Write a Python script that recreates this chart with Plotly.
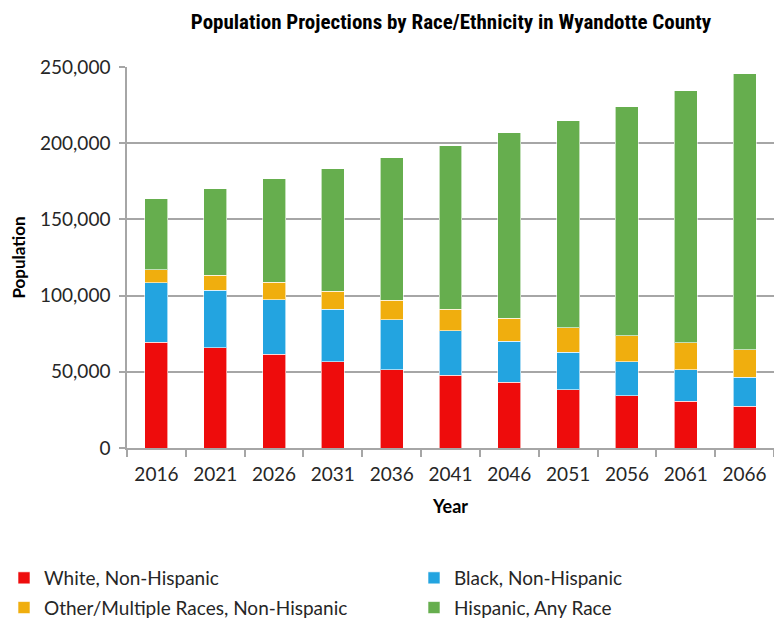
import plotly.graph_objects as go

years = ["2016", "2021", "2026", "2031", "2036", "2041", "2046", "2051", "2056", "2061", "2066"]
white = [69400, 65700, 61500, 56700, 51500, 47600, 43000, 38200, 34200, 30700, 27400]
black = [39000, 37800, 35900, 34200, 32800, 29500, 26900, 24600, 22500, 20600, 18900]
other = [8700, 9900, 11200, 11800, 12500, 13800, 15100, 16100, 17100, 17900, 18300]
hispanic = [46400, 56800, 68200, 80700, 93800, 107500, 122000, 135900, 150200, 165100, 180900]

series = [
    ("White, Non-Hispanic", white, "#EE0C0C", "legend"),
    ("Black, Non-Hispanic", black, "#23A4E0", "legend2"),
    ("Other/Multiple Races, Non-Hispanic", other, "#F0AE0E", "legend"),
    ("Hispanic, Any Race", hispanic, "#66AE4E", "legend2"),
]

font_main = "Lato, 'Open Sans', 'DejaVu Sans', sans-serif"
font_title = "'Liberation Sans Narrow', 'Roboto Condensed', 'Liberation Sans', sans-serif"
txt_col = "#262626"

# plot area geometry (pixels)
L, R, T, B = 127, 0, 67, 171
PW, PH = 774 - L - R, 619 - T - B

fig = go.Figure()
for name, vals, col, leg in series:
    fig.add_trace(go.Bar(
        x=years, y=vals, name=name, legend=leg, legendgroup=name,
        marker=dict(color=col, line=dict(color="rgba(255,255,255,0.6)", width=1)),
        width=0.39,
    ))

legend_common = dict(
    orientation="v",
    xanchor="left", yanchor="top",
    font=dict(family=font_main, size=19, color=txt_col),
    traceorder="grouped", tracegroupgap=2, itemwidth=30, bgcolor="rgba(0,0,0,0)",
)
leg_top = 559

fig.update_layout(
    barmode="stack",
    width=774, height=619,
    paper_bgcolor="white", plot_bgcolor="white",
    margin=dict(l=L, r=R, t=T, b=B, autoexpand=False),
    title=dict(
        text="<b>Population Projections by Race/Ethnicity in Wyandotte County</b>",
        x=(451 - L) / PW, xanchor="center", xref="paper",
        y=1 - 22 / 619, yanchor="middle",
        font=dict(family=font_title, size=21, color="black"),
    ),
    font=dict(family=font_main, size=19, color=txt_col),
    showlegend=True,
    legend=dict(legend_common, x=(4 - L) / PW, y=-(leg_top - (T + PH)) / PH),
    legend2=dict(legend_common, x=(414 - L) / PW, y=-(leg_top - (T + PH)) / PH),
)

fig.update_xaxes(
    type="category",
    showline=True, linecolor="#A6A6A6", linewidth=1.5,
    ticks="outside", tickson="boundaries", ticklen=7, tickcolor="#A6A6A6", tickwidth=1.5,
    showgrid=False,
    ticklabelstandoff=8,
    title=dict(text="<b>Year</b>", font=dict(family=font_main, size=18, color="black"), standoff=17),
    tickfont=dict(family=font_main, size=19, color=txt_col),
)
fig.update_yaxes(
    range=[0, 250000], tickvals=[0, 50000, 100000, 150000, 200000, 250000],
    tickformat=",d",
    showline=True, linecolor="#A6A6A6", linewidth=1.5,
    ticks="outside", ticklen=6, tickcolor="#A6A6A6", tickwidth=1.5,
    showgrid=True, gridcolor="#A6A6A6", gridwidth=1.5,
    zeroline=False,
    ticklabelstandoff=5,
    title=dict(text="<b>Population</b>", font=dict(family=font_main, size=17, color="black"), standoff=10),
    tickfont=dict(family=font_main, size=19, color=txt_col),
)

fig.write_html("out.html")
